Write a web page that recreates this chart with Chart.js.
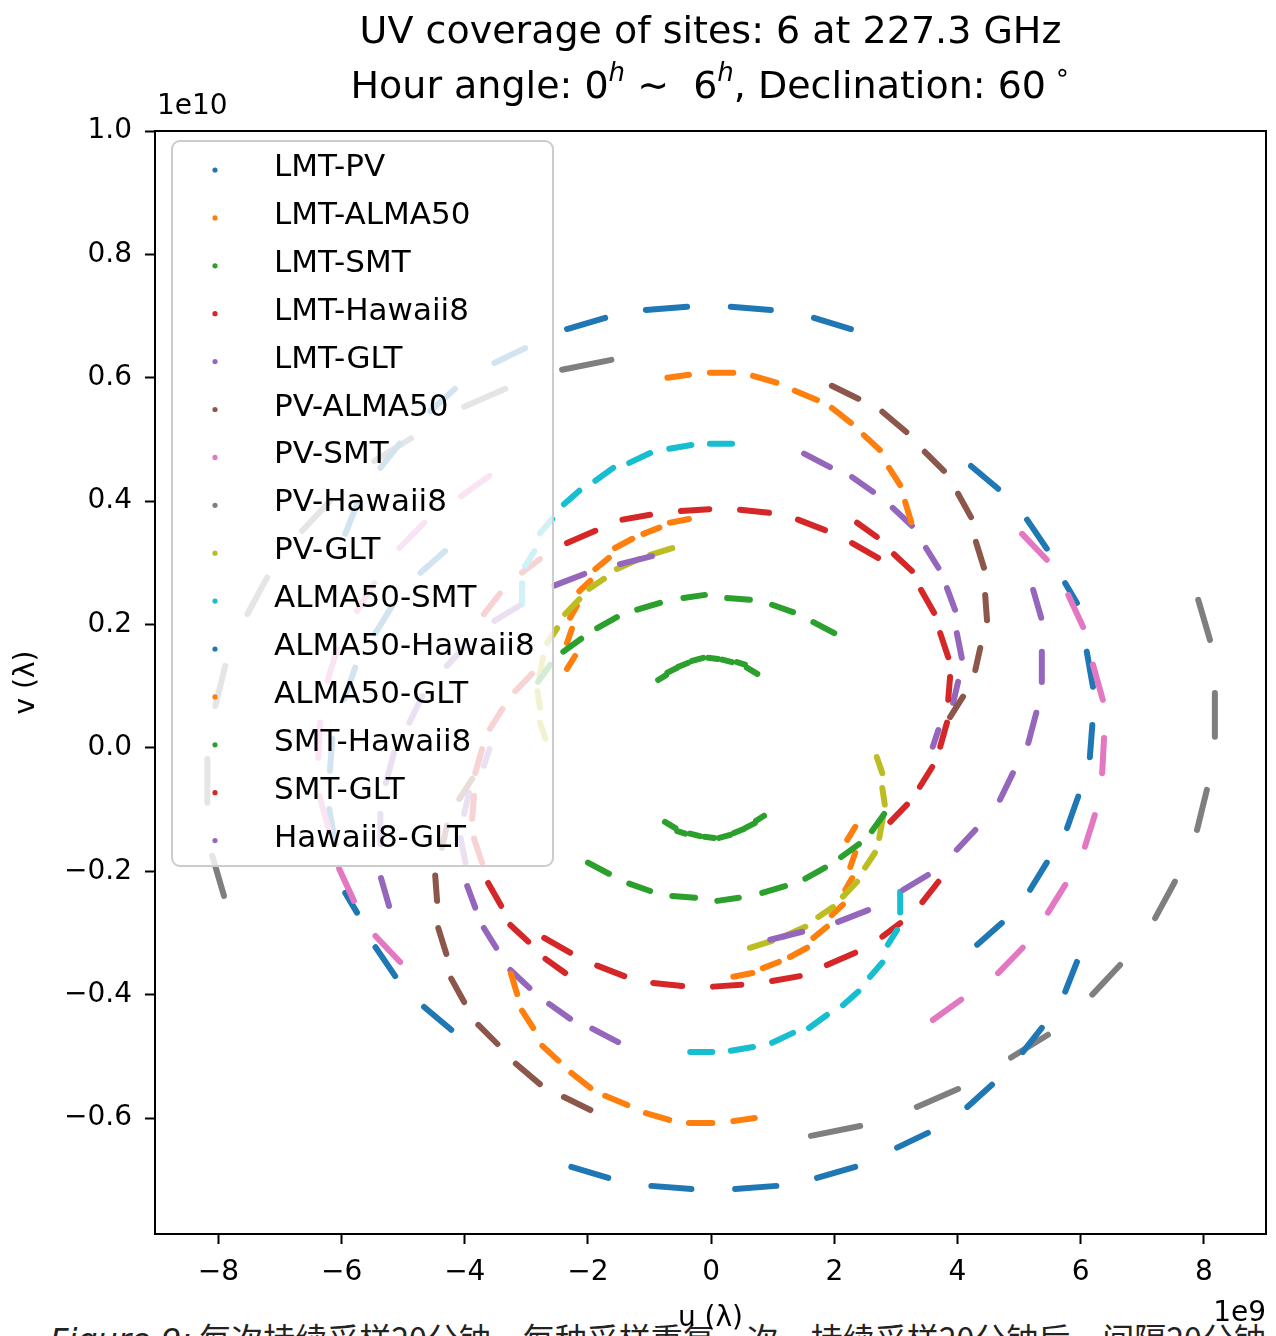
<!DOCTYPE html>
<html>
<head>
<meta charset="utf-8">
<title>UV coverage</title>
<script src="https://cdn.jsdelivr.net/npm/chart.js@4.4.0/dist/chart.umd.min.js"></script>
<style>
  html, body { margin: 0; padding: 0; background: #fff; }
  #wrap { position: relative; width: 1276px; height: 1336px; overflow: hidden; }
  #caption { position: absolute; left: 50px; top: 1321px; font-size: 32px; line-height: 32px;
             font-family: "Noto Sans CJK SC", sans-serif; color: #222; white-space: nowrap; }
  #caption i { font-family: "DejaVu Sans", sans-serif; }
  #chartBox { position: absolute; left: 0; top: 0; width: 1276px; height: 1336px; }
</style>
</head>
<body>
<div id="wrap">
  <div id="caption"><i>Figure 9:</i> 每次持续采样20分钟，每种采样重复一次，持续采样20分钟后，间隔20分钟</div>
  <div id="chartBox"><canvas id="uvChart"></canvas></div>
</div>
<script>
// Baselines, in legend order (matplotlib tab10 colour cycle)
const baselines = ['LMT-PV', 'LMT-ALMA50', 'LMT-SMT', 'LMT-Hawaii8', 'LMT-GLT',
                   'PV-ALMA50', 'PV-SMT', 'PV-Hawaii8', 'PV-GLT', 'ALMA50-SMT',
                   'ALMA50-Hawaii8', 'ALMA50-GLT', 'SMT-Hawaii8', 'SMT-GLT', 'Hawaii8-GLT'];
const colors = ['#1f77b4', '#ff7f0e', '#2ca02c', '#d62728', '#9467bd',
                '#8c564b', '#e377c2', '#7f7f7f', '#bcbd22', '#17becf',
                '#1f77b4', '#ff7f0e', '#2ca02c', '#d62728', '#9467bd'];

// Axis ticks, in units of 1e9 wavelengths
const xTicks = [-8, -6, -4, -2, 0, 2, 4, 6, 8];
const yTicks = [-6, -4, -2, 0, 2, 4, 6, 8, 10];

// Each sampling run is one dash: [u start, v start, u end, v end] (1e9 lambda)
const lmtPv = [
  [4.22, 4.57, 4.66, 4.20], [5.13, 3.70, 5.45, 3.23], [5.75, 2.67, 5.94, 2.35], [6.10, 1.56, 6.20, 0.99],
  [6.19, 0.37, 6.15, -0.15], [5.96, -0.79, 5.78, -1.30], [5.45, -1.86, 5.18, -2.30], [4.72, -2.84, 4.32, -3.19],
  [-4.22, -4.57, -4.66, -4.20], [-5.13, -3.70, -5.45, -3.23], [-5.75, -2.67, -5.94, -2.35], [-6.10, -1.56, -6.20, -0.99],
  [-6.19, -0.37, -6.15, 0.15], [-5.96, 0.79, -5.78, 1.30], [-5.45, 1.86, -5.18, 2.30], [-4.72, 2.84, -4.32, 3.19]
];
const lmtAlma50 = [
  [0.36, -3.71, 0.67, -3.65], [0.84, -3.57, 1.10, -3.47], [1.28, -3.39, 1.56, -3.24], [1.66, -3.08, 1.88, -2.90],
  [1.96, -2.71, 2.14, -2.54], [2.18, -2.30, 2.29, -2.11], [2.26, -1.93, 2.34, -1.70], [2.21, -1.49, 2.34, -1.28],
  [-0.36, 3.71, -0.67, 3.65], [-0.84, 3.57, -1.10, 3.47], [-1.28, 3.39, -1.56, 3.24], [-1.66, 3.08, -1.88, 2.90],
  [-1.96, 2.71, -2.14, 2.54], [-2.18, 2.30, -2.29, 2.11], [-2.26, 1.93, -2.34, 1.70], [-2.21, 1.49, -2.34, 1.28]
];
const lmtSmt = [
  [-0.86, 1.10, -0.73, 1.18], [-0.71, 1.22, -0.55, 1.30], [-0.54, 1.31, -0.37, 1.38], [-0.31, 1.41, -0.13, 1.46],
  [-0.05, 1.46, 0.11, 1.44], [0.18, 1.43, 0.34, 1.39], [0.42, 1.39, 0.55, 1.35], [0.58, 1.30, 0.75, 1.20],
  [0.86, -1.10, 0.73, -1.18], [0.71, -1.22, 0.55, -1.30], [0.54, -1.31, 0.37, -1.38], [0.31, -1.41, 0.13, -1.46],
  [0.05, -1.46, -0.11, -1.44], [-0.18, -1.43, -0.34, -1.39], [-0.42, -1.39, -0.55, -1.35], [-0.58, -1.30, -0.75, -1.20]
];
const lmtHawaii8 = [
  [-2.71, -3.08, -2.29, -3.32], [-1.85, -3.53, -1.41, -3.70], [-0.94, -3.81, -0.47, -3.86], [0.03, -3.87, 0.49, -3.84],
  [0.99, -3.78, 1.44, -3.70], [1.88, -3.52, 2.34, -3.32], [2.78, -3.06, 3.07, -2.84], [3.43, -2.50, 3.69, -2.17],
  [2.71, 3.08, 2.29, 3.32], [1.85, 3.53, 1.41, 3.70], [0.94, 3.81, 0.47, 3.86], [-0.03, 3.87, -0.49, 3.84],
  [-0.99, 3.78, -1.44, 3.70], [-1.88, 3.52, -2.34, 3.32], [-2.78, 3.06, -3.07, 2.84], [-3.43, 2.50, -3.69, 2.17]
];
const lmtGlt = [
  [1.51, 4.77, 1.93, 4.55], [2.29, 4.39, 2.63, 4.15], [2.95, 3.89, 3.26, 3.60], [3.49, 3.24, 3.69, 2.92],
  [3.83, 2.59, 3.96, 2.24], [3.99, 1.86, 4.07, 1.46], [4.01, 1.07, 3.93, 0.73], [3.69, 0.29, 3.60, 0.02],
  [-1.51, -4.77, -1.93, -4.55], [-2.29, -4.39, -2.63, -4.15], [-2.95, -3.89, -3.26, -3.60], [-3.49, -3.24, -3.69, -2.92],
  [-3.83, -2.59, -3.96, -2.24], [-3.99, -1.86, -4.07, -1.46], [-4.01, -1.07, -3.93, -0.73], [-3.69, -0.29, -3.60, -0.02]
];
const pvAlma50 = [
  [1.96, 5.87, 2.39, 5.66], [2.78, 5.45, 3.17, 5.12], [3.47, 4.80, 3.78, 4.49], [4.01, 4.12, 4.22, 3.74],
  [4.30, 3.34, 4.43, 2.92], [4.45, 2.48, 4.48, 2.07], [4.37, 1.62, 4.29, 1.26], [4.09, 0.83, 3.88, 0.50],
  [-1.96, -5.87, -2.39, -5.66], [-2.78, -5.45, -3.17, -5.12], [-3.47, -4.80, -3.78, -4.49], [-4.01, -4.12, -4.22, -3.74],
  [-4.30, -3.34, -4.43, -2.92], [-4.45, -2.48, -4.48, -2.07], [-4.37, -1.62, -4.29, -1.26], [-4.09, -0.83, -3.88, -0.50]
];
const pvSmt = [
  [5.05, 3.47, 5.45, 3.05], [5.80, 2.48, 6.04, 1.96], [6.20, 1.35, 6.36, 0.78], [6.38, 0.16, 6.35, -0.41],
  [6.23, -1.09, 6.07, -1.60], [5.75, -2.22, 5.47, -2.67], [5.06, -3.24, 4.66, -3.65], [4.06, -4.08, 3.60, -4.41],
  [-5.05, -3.47, -5.45, -3.05], [-5.80, -2.48, -6.04, -1.96], [-6.20, -1.35, -6.36, -0.78], [-6.38, -0.16, -6.35, 0.41],
  [-6.23, 1.09, -6.07, 1.60], [-5.75, 2.22, -5.47, 2.67], [-5.06, 3.24, -4.66, 3.65], [-4.06, 4.08, -3.60, 4.41]
];
const pvHawaii8 = [
  [7.91, 2.40, 8.10, 1.75], [8.18, 0.89, 8.18, 0.18], [8.05, -0.68, 7.89, -1.33], [7.53, -2.17, 7.21, -2.76],
  [6.64, -3.52, 6.19, -4.00], [5.47, -4.65, 4.87, -5.02], [4.01, -5.53, 3.34, -5.82], [2.42, -6.13, 1.62, -6.29],
  [-7.91, -2.40, -8.10, -1.75], [-8.18, -0.89, -8.18, -0.18], [-8.05, 0.68, -7.89, 1.33], [-7.53, 2.17, -7.21, 2.76],
  [-6.64, 3.52, -6.19, 4.00], [-5.47, 4.65, -4.87, 5.02], [-4.01, 5.53, -3.34, 5.82], [-2.42, 6.13, -1.62, 6.29]
];
const pvGlt = [
  [0.63, -3.24, 0.99, -3.13], [1.17, -3.06, 1.53, -2.90], [1.74, -2.74, 1.98, -2.58], [2.14, -2.41, 2.37, -2.17],
  [2.50, -1.94, 2.66, -1.70], [2.73, -1.46, 2.79, -1.13], [2.82, -0.92, 2.78, -0.65], [2.78, -0.41, 2.69, -0.15],
  [-0.63, 3.24, -0.99, 3.13], [-1.17, 3.06, -1.53, 2.90], [-1.74, 2.74, -1.98, 2.58], [-2.14, 2.41, -2.37, 2.17],
  [-2.50, 1.94, -2.66, 1.70], [-2.73, 1.46, -2.79, 1.13], [-2.82, 0.92, -2.78, 0.65], [-2.78, 0.41, -2.69, 0.15]
];
const alma50Smt = [
  [-0.34, -4.93, 0.02, -4.93], [0.32, -4.91, 0.68, -4.85], [0.99, -4.78, 1.33, -4.62], [1.59, -4.54, 1.88, -4.33],
  [2.14, -4.17, 2.39, -3.95], [2.58, -3.71, 2.78, -3.48], [2.87, -3.19, 3.02, -2.95], [3.07, -2.67, 3.07, -2.33],
  [0.34, 4.93, -0.02, 4.93], [-0.32, 4.91, -0.68, 4.85], [-0.99, 4.78, -1.33, 4.62], [-1.59, 4.54, -1.88, 4.33],
  [-2.14, 4.17, -2.39, 3.95], [-2.58, 3.71, -2.78, 3.48], [-2.87, 3.19, -3.02, 2.95], [-3.07, 2.67, -3.07, 2.33]
];
const alma50Hawaii8 = [
  [-2.27, -6.79, -1.67, -6.97], [-0.97, -7.10, -0.32, -7.15], [0.39, -7.15, 1.06, -7.10], [1.72, -6.97, 2.34, -6.79],
  [3.02, -6.48, 3.52, -6.24], [4.16, -5.82, 4.56, -5.46], [5.06, -4.93, 5.37, -4.54], [5.75, -3.95, 5.94, -3.47],
  [2.27, 6.79, 1.67, 6.97], [0.97, 7.10, 0.32, 7.15], [-0.39, 7.15, -1.06, 7.10], [-1.72, 6.97, -2.34, 6.79],
  [-3.02, 6.48, -3.52, 6.24], [-4.16, 5.82, -4.56, 5.46], [-5.06, 4.93, -5.37, 4.54], [-5.75, 3.95, -5.94, 3.47]
];
const alma50Glt = [
  [-0.71, 6.00, -0.36, 6.05], [-0.02, 6.08, 0.36, 6.08], [0.68, 6.03, 1.06, 5.92], [1.36, 5.79, 1.72, 5.64],
  [1.96, 5.51, 2.27, 5.27], [2.48, 5.07, 2.74, 4.83], [2.89, 4.54, 3.07, 4.26], [3.15, 3.99, 3.25, 3.66],
  [0.71, -6.00, 0.36, -6.05], [0.02, -6.08, -0.36, -6.08], [-0.68, -6.03, -1.06, -5.92], [-1.36, -5.79, -1.72, -5.64],
  [-1.96, -5.51, -2.27, -5.27], [-2.48, -5.07, -2.74, -4.83], [-2.89, -4.54, -3.07, -4.26], [-3.15, -3.99, -3.25, -3.66]
];
const smtHawaii8 = [
  [-2.81, 1.07, -2.61, 1.35], [-2.40, 1.56, -2.11, 1.77], [-1.85, 1.94, -1.53, 2.12], [-1.20, 2.24, -0.83, 2.35],
  [-0.45, 2.43, -0.10, 2.48], [0.26, 2.43, 0.63, 2.40], [0.99, 2.32, 1.33, 2.20], [1.66, 2.04, 2.00, 1.86],
  [2.81, -1.07, 2.61, -1.35], [2.40, -1.56, 2.11, -1.77], [1.85, -1.94, 1.53, -2.12], [1.20, -2.24, 0.83, -2.35],
  [0.45, -2.43, 0.10, -2.48], [-0.26, -2.43, -0.63, -2.40], [-0.99, -2.32, -1.33, -2.20], [-1.66, -2.04, -2.00, -1.86]
];
const smtGlt = [
  [2.37, 3.65, 2.69, 3.42], [2.97, 3.14, 3.26, 2.87], [3.41, 2.56, 3.62, 2.19], [3.72, 1.86, 3.85, 1.47],
  [3.88, 1.15, 3.85, 0.78], [3.83, 0.41, 3.72, 0.02], [3.59, -0.31, 3.39, -0.63], [3.18, -0.92, 2.91, -1.20],
  [-2.37, -3.65, -2.69, -3.42], [-2.97, -3.14, -3.26, -2.87], [-3.41, -2.56, -3.62, -2.19], [-3.72, -1.86, -3.85, -1.47],
  [-3.88, -1.15, -3.85, -0.78], [-3.83, -0.41, -3.72, -0.02], [-3.59, 0.31, -3.39, 0.63], [-3.18, 0.92, -2.91, 1.20]
];
const hawaii8Glt = [
  [5.23, 2.56, 5.36, 2.11], [5.37, 1.56, 5.37, 1.07], [5.28, 0.57, 5.15, 0.08], [4.90, -0.41, 4.69, -0.84],
  [4.29, -1.33, 3.99, -1.65], [3.52, -2.06, 3.12, -2.30], [2.55, -2.63, 2.06, -2.82], [1.48, -2.98, 0.96, -3.11],
  [-5.23, -2.56, -5.36, -2.11], [-5.37, -1.56, -5.37, -1.07], [-5.28, -0.57, -5.15, -0.08], [-4.90, 0.41, -4.69, 0.84],
  [-4.29, 1.33, -3.99, 1.65], [-3.52, 2.06, -3.12, 2.30], [-2.55, 2.63, -2.06, 2.82], [-1.48, 2.98, -0.96, 3.11]
];

const tracks = [lmtPv, lmtAlma50, lmtSmt, lmtHawaii8, lmtGlt, pvAlma50, pvSmt, pvHawaii8,
                pvGlt, alma50Smt, alma50Hawaii8, alma50Glt, smtHawaii8, smtGlt, hawaii8Glt];

const FONT = '"DejaVu Sans", sans-serif';

// Turn dashes into line points, with a gap point after each one
function toPoints(dashes) {
  const pts = [];
  dashes.forEach(d => {
    pts.push({x: d[0], y: d[1]}, {x: d[2], y: d[3]}, {x: null, y: null});
  });
  return pts;
}

function fmt(n, digits) {
  return n.toFixed(digits).replace('-', '\u2212');
}

// Draw text pieces side by side (for superscripts in the title)
function drawRuns(ctx, runs, cx, y) {
  let total = 0;
  runs.forEach(r => {
    ctx.font = r.font;
    r.w = ctx.measureText(r.text).width;
    total += r.w;
  });
  let x = cx - total / 2;
  runs.forEach(r => {
    ctx.font = r.font;
    ctx.fillText(r.text, x, y + (r.dy || 0));
    x += r.w;
  });
}

const titleMain = '38px ' + FONT;
const titleSup = 'italic 26px ' + FONT;
const titleLine1 = [{text: 'UV coverage of sites: 6 at 227.3 GHz', font: titleMain}];
const titleLine2 = [
  {text: 'Hour angle: 0', font: titleMain},
  {text: 'h', font: titleSup, dy: -17},
  {text: ' \u223C  6', font: titleMain},
  {text: 'h', font: titleSup, dy: -17},
  {text: ', Declination: 60', font: titleMain},
  {text: ' \u2218', font: '26px ' + FONT, dy: -17}
];

// Frame, legend box, title and offset texts
const decorPlugin = {
  id: 'uvDecor',
  afterDatasetsDraw(chart) {
    const ctx = chart.ctx;
    const area = chart.chartArea;
    ctx.save();

    // axes frame
    ctx.strokeStyle = '#000';
    ctx.lineWidth = 2;
    ctx.strokeRect(area.left, area.top, area.right - area.left, area.bottom - area.top);

    // legend (semi transparent box over the data, like matplotlib)
    const lx = area.left + 17, ly = area.top + 10, lw = 381, lh = 725;
    ctx.beginPath();
    ctx.roundRect(lx, ly, lw, lh, 8);
    ctx.fillStyle = 'rgba(255,255,255,0.8)';
    ctx.fill();
    ctx.strokeStyle = '#cccccc';
    ctx.lineWidth = 2;
    ctx.stroke();

    ctx.font = '31px ' + FONT;
    ctx.textAlign = 'left';
    ctx.textBaseline = 'alphabetic';
    baselines.forEach((name, i) => {
      const rowY = ly + 29 + i * 47.9;
      ctx.beginPath();
      ctx.arc(lx + 43, rowY, 2.6, 0, Math.PI * 2);
      ctx.fillStyle = colors[i];
      ctx.fill();
      ctx.fillStyle = '#000';
      ctx.fillText(name, lx + 102, rowY + 6);
    });
    ctx.restore();
  },
  afterDraw(chart) {
    const ctx = chart.ctx;
    const area = chart.chartArea;
    const cx = (area.left + area.right) / 2;
    ctx.save();
    ctx.fillStyle = '#000';
    ctx.textAlign = 'left';
    ctx.textBaseline = 'alphabetic';
    drawRuns(ctx, titleLine1, cx, 43);
    drawRuns(ctx, titleLine2, cx, 98);

    ctx.font = '28px ' + FONT;
    ctx.textAlign = 'left';
    ctx.fillText('1e10', area.left + 2, area.top - 17);
    ctx.textAlign = 'right';
    ctx.fillText('1e9', area.right, chart.height - 15);
    ctx.restore();
  }
};

const datasets = tracks.map((dashes, i) => ({
  label: baselines[i],
  data: toPoints(dashes),
  showLine: true,
  spanGaps: false,
  borderColor: colors[i],
  backgroundColor: colors[i],
  borderWidth: 6,
  borderCapStyle: 'round',
  pointRadius: 0,
  pointHoverRadius: 0,
  order: tracks.length - i   // later baselines drawn on top, as in matplotlib
}));

const tickFont = {family: FONT, size: 28};

new Chart(document.getElementById('uvChart'), {
  type: 'scatter',
  data: {datasets: datasets},
  options: {
    responsive: true,
    maintainAspectRatio: false,
    animation: false,
    layout: {padding: {top: 131, right: 10, left: 0, bottom: 0}},
    plugins: {
      legend: {display: false},
      tooltip: {enabled: false},
      title: {display: false}
    },
    scales: {
      x: {
        type: 'linear',
        min: -9.03,
        max: 9.01,
        offset: false,
        border: {display: false},
        grid: {drawOnChartArea: false, tickLength: 10, tickWidth: 2, tickColor: '#000', color: '#000'},
        ticks: {
          color: '#000', font: tickFont, padding: 12, autoSkip: false, maxRotation: 0,
          callback: v => fmt(v, 0)
        },
        afterBuildTicks: scale => { scale.ticks = xTicks.map(v => ({value: v})); },
        afterFit: scale => { scale.height = 102; },
        title: {display: true, text: 'u (\u03bb)', color: '#000', font: tickFont, padding: {top: 0, bottom: 0}}
      },
      y: {
        type: 'linear',
        min: -7.88,
        max: 10.0,
        offset: false,
        border: {display: false},
        grid: {drawOnChartArea: false, tickLength: 10, tickWidth: 2, tickColor: '#000', color: '#000'},
        ticks: {
          color: '#000', font: tickFont, padding: 13, autoSkip: false,
          callback: v => fmt(v / 10, 1)
        },
        afterBuildTicks: scale => { scale.ticks = yTicks.map(v => ({value: v})); },
        afterFit: scale => { scale.width = 155; },
        title: {display: true, text: 'v (\u03bb)', color: '#000', font: tickFont, padding: {top: 10, bottom: 0}}
      }
    }
  },
  plugins: [decorPlugin]
});
</script>
</body>
</html>
